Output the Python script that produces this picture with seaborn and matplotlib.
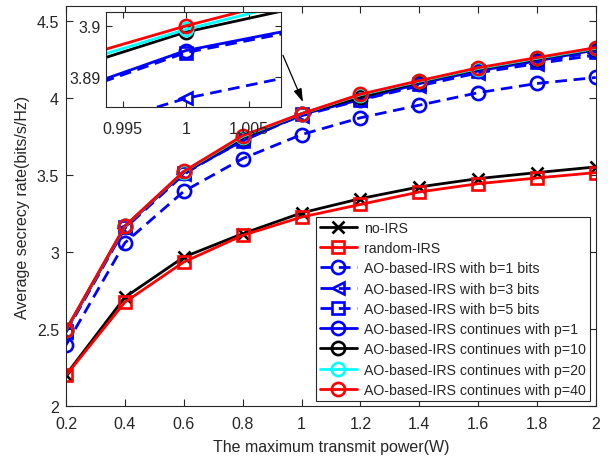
import numpy as np
import pandas as pd
import matplotlib
matplotlib.use("Agg")
import matplotlib.pyplot as plt
import seaborn as sns

# ---- data ----
power = [0.2, 0.4, 0.6, 0.8, 1.0, 1.2, 1.4, 1.6, 1.8, 2.0]
no_irs = [2.204, 2.707, 2.968, 3.120, 3.255, 3.348, 3.424, 3.478, 3.517, 3.554]
random_irs = [2.200, 2.675, 2.936, 3.109, 3.228, 3.310, 3.391, 3.445, 3.482, 3.517]
b1 = [2.397, 3.061, 3.395, 3.608, 3.764, 3.873, 3.955, 4.036, 4.096, 4.135]
b3 = [2.480, 3.155, 3.505, 3.738, 3.8859, 3.988, 4.080, 4.165, 4.225, 4.280]
b5 = [2.488, 3.163, 3.513, 3.722, 3.8948, 3.990, 4.092, 4.175, 4.238, 4.300]
p1 = [2.490, 3.165, 3.515, 3.723, 3.8952, 3.991, 4.095, 4.178, 4.242, 4.315]
p10 = [2.492, 3.167, 3.520, 3.743, 3.8988, 4.006, 4.105, 4.188, 4.254, 4.320]
p20 = [2.494, 3.168, 3.523, 3.751, 3.8993, 4.022, 4.110, 4.193, 4.259, 4.324]
p40 = [2.496, 3.170, 3.525, 3.757, 3.9000, 4.026, 4.114, 4.198, 4.264, 4.329]

labels = ["no-IRS", "random-IRS",
          "AO-based-IRS with b=1 bits", "AO-based-IRS with b=3 bits",
          "AO-based-IRS with b=5 bits",
          "AO-based-IRS continues with p=1", "AO-based-IRS continues with p=10",
          "AO-based-IRS continues with p=20", "AO-based-IRS continues with p=40"]
series = [no_irs, random_irs, b1, b3, b5, p1, p10, p20, p40]
colors = ["black", "red", "blue", "blue", "blue", "blue", "black", "cyan", "red"]
markers = ["x", "s", "o", "<", "s", "o", "o", "o", "o"]
dashed = [False, False, True, True, True, False, False, False, False]

xticks = [0.2, 0.4, 0.6, 0.8, 1, 1.2, 1.4, 1.6, 1.8, 2]
xticklabels = ["0.2", "0.4", "0.6", "0.8", "1", "1.2", "1.4", "1.6", "1.8", "2"]
yticks = [2, 2.5, 3, 3.5, 4, 4.5]
yticklabels = ["2", "2.5", "3", "3.5", "4", "4.5"]

sns.set_style("ticks")
plt.rcParams["font.family"] = ["Liberation Sans", "DejaVu Sans"]

fig = plt.figure(figsize=(6.08, 4.6), dpi=100)
ax = fig.add_axes([0.1086, 0.115, 0.8714, 0.870])


def draw(a):
    for y, lab, c, m, d in zip(series, labels, colors, markers, dashed):
        df = pd.DataFrame({"x": power, "y": y})
        kw = dict(color=c, marker=m, markersize=9.5 if m == "o" else 9,
                  markeredgewidth=1.9, linewidth=2.0, label=lab,
                  markeredgecolor=c)
        if m != "x":
            kw["markerfacecolor"] = "none"
        if d:
            kw["linestyle"] = (0, (4.2, 2.4))
        sns.lineplot(data=df, x="x", y="y", ax=a, **kw)


draw(ax)
ax.set_xlim(0.2, 2.0)
ax.set_ylim(2.0, 4.6)
ax.set_xticks(xticks)
ax.set_xticklabels(xticklabels)
ax.set_yticks(yticks)
ax.set_yticklabels(yticklabels)
ax.tick_params(direction="in", top=True, right=True, labelsize=11.5,
               colors="#262626", length=5, width=0.8)
ax.tick_params(axis="x", pad=7)
ax.tick_params(axis="y", pad=5)
for s in ax.spines.values():
    s.set_color("#262626")
    s.set_linewidth(0.8)
ax.set_xlabel("The maximum transmit power(W)", fontsize=11.5, color="#262626",
              labelpad=6)
ax.set_ylabel("Average secrecy rate(bits/s/Hz)", fontsize=11.5, color="#262626",
              labelpad=5)

handles, labs = ax.get_legend_handles_labels()
leg = ax.legend(handles, labs, loc="lower right", bbox_to_anchor=(0.989, 0.0125),
                borderaxespad=0, fontsize=10.2, handlelength=2.6, labelspacing=0.44,
                handletextpad=0.5, borderpad=0.3, fancybox=False, framealpha=1,
                edgecolor="#262626")
leg.get_frame().set_linewidth(0.8)

# inset
ax2 = fig.add_axes([0.174, 0.765, 0.288, 0.2067])
draw(ax2)
if ax2.get_legend() is not None:
    ax2.get_legend().remove()
ax2.set_xlim(0.99365, 1.00754)
ax2.set_ylim(3.8842, 3.9027)
ax2.set_xticks([0.995, 1.0, 1.005])
ax2.set_xticklabels(["0.995", "1", "1.005"])
ax2.set_yticks([3.89, 3.9])
ax2.set_yticklabels(["3.89", "3.9"])
ax2.set_xlabel("")
ax2.set_ylabel("")
ax2.tick_params(direction="in", top=True, right=True, labelsize=11.5,
                colors="#262626", length=4, width=0.8)
ax2.tick_params(axis="x", pad=10)
for s in ax2.spines.values():
    s.set_color("#262626")
    s.set_linewidth(0.8)

ax.annotate("", xy=(1.005, 3.975), xytext=(0.937, 4.279),
            arrowprops=dict(arrowstyle="-|>,head_length=0.8,head_width=0.25",
                            color="black", lw=0.9, shrinkA=0, shrinkB=0))

fig.savefig("out.png", dpi=100)
